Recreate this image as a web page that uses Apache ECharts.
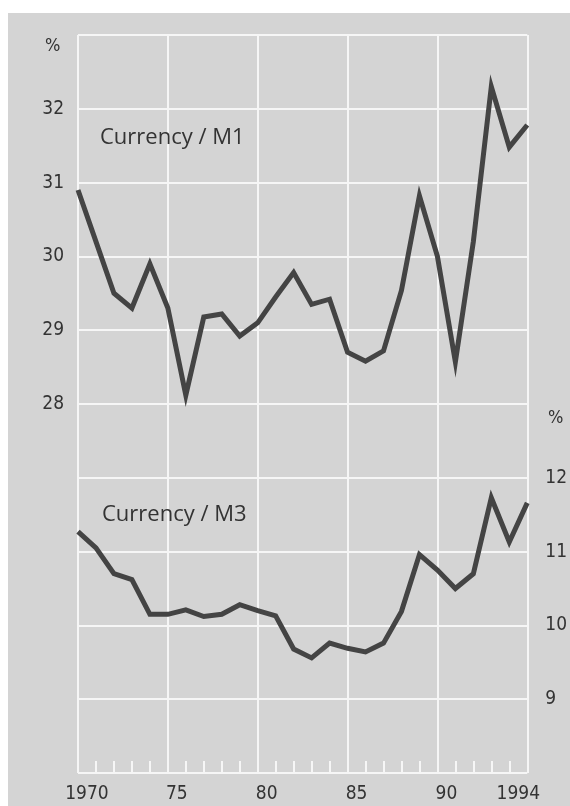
<!DOCTYPE html>
<html>
<head>
<meta charset="utf-8">
<script src="https://cdn.jsdelivr.net/npm/echarts@6/dist/echarts.min.js"></script>
<style>
html,body{margin:0;padding:0;background:#fff;}
#chart{width:570px;height:806px;}
</style>
</head>
<body>
<div id="chart"></div>
<script>
// Data points sit on year boundaries (start of 1970 ... end of 1994)
var pointYears = [1970,1971,1972,1973,1974,1975,1976,1977,1978,1979,1980,1981,1982,1983,1984,1985,1986,1987,1988,1989,1990,1991,1992,1993,1994,1995];
var currencyM1 = [30.9,30.2,29.5,29.3,29.9,29.3,28.12,29.18,29.22,28.92,29.1,29.45,29.78,29.35,29.42,28.7,28.58,28.72,29.54,30.82,30.0,28.57,30.2,32.3,31.48,31.78];
var currencyM3 = [11.27,11.05,10.7,10.62,10.15,10.15,10.21,10.12,10.15,10.28,10.2,10.13,9.68,9.56,9.76,9.69,9.64,9.76,10.19,10.96,10.75,10.5,10.7,11.73,11.13,11.66];
// Year bands (labels centred in each year)
var yearBands = ['1970','71','72','73','74','75','76','77','78','79','80','81','82','83','84','85','86','87','88','89','90','91','92','93','1994'];
var shownYearLabels = {'1970':'1970','75':'75','80':'80','85':'85','90':'90','1994':'1994'};
var leftTicks = [28,29,30,31,32];
var rightTicks = [9,10,11,12];

var chart = echarts.init(document.getElementById('chart'));
var labelFont = "'Liberation Sans Narrow','DejaVu Sans Condensed','Open Sans',sans-serif";
var textFont = "'Open Sans','Noto Sans',sans-serif";
var txt = '#333333';

var option = {
  animation: false,
  backgroundColor: '#ffffff',
  graphic: [
    {type:'rect', left:8, top:13, shape:{width:562, height:793}, style:{fill:'#d4d4d4'}, z:-10, silent:true},
    {type:'text', left:45, top:37, style:{text:'%', font:"18px " + labelFont, fill:txt}, z:10},
    {type:'text', left:548, top:409, style:{text:'%', font:"18px " + labelFont, fill:txt}, z:10},
    {type:'text', left:100, top:127, style:{text:'Currency / M1', font:"22px " + textFont, fill:txt}, z:10},
    {type:'text', left:102, top:504, style:{text:'Currency / M3', font:"22px " + textFont, fill:txt}, z:10}
  ],
  grid: {left:78, top:35, right:40.5, bottom:33, containLabel:false},
  xAxis: [
    {
      type:'value', min:1970, max:1995, interval:5,
      axisLine:{show:false}, axisTick:{show:false}, axisLabel:{show:false},
      splitLine:{show:true, lineStyle:{color:'#f6f6f6', width:2}}
    },
    {
      type:'category', data: yearBands, boundaryGap:true, position:'bottom',
      axisLine:{show:false},
      axisTick:{show:true, inside:true, length:12, interval:0, lineStyle:{color:'#f6f6f6', width:2}},
      axisLabel:{
        show:true, interval:0, margin:12, color:txt, fontSize:19, fontFamily:labelFont,
        formatter:function(v){ return shownYearLabels[v] || ''; }
      },
      splitLine:{show:false}
    }
  ],
  yAxis: [
    {
      type:'value', position:'left', min:23, max:33, interval:1,
      axisLine:{show:false}, axisTick:{show:false},
      axisLabel:{margin:14, color:txt, fontSize:19, fontFamily:labelFont,
        formatter:function(v){ return leftTicks.indexOf(v) >= 0 ? String(v) : ''; }},
      splitLine:{show:true, lineStyle:{color:'#f6f6f6', width:2}}
    },
    {
      type:'value', position:'right', min:8, max:18, interval:1,
      axisLine:{show:false}, axisTick:{show:false},
      axisLabel:{margin:18, color:txt, fontSize:19, fontFamily:labelFont,
        formatter:function(v){ return rightTicks.indexOf(v) >= 0 ? String(v) : ''; }},
      splitLine:{show:false}
    }
  ],
  series: [
    {
      name:'Currency / M1', type:'line', xAxisIndex:0, yAxisIndex:0,
      data: pointYears.map(function(y,i){ return [y, currencyM1[i]]; }),
      symbol:'none', lineStyle:{color:'#444444', width:5, join:'miter'}, z:5
    },
    {
      name:'Currency / M3', type:'line', xAxisIndex:0, yAxisIndex:1,
      data: pointYears.map(function(y,i){ return [y, currencyM3[i]]; }),
      symbol:'none', lineStyle:{color:'#444444', width:5, join:'miter'}, z:5
    }
  ]
};
chart.setOption(option);
</script>
</body>
</html>
